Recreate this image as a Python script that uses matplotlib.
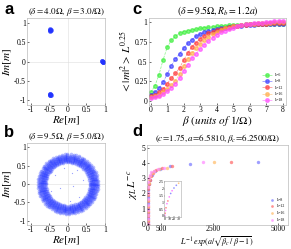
import numpy as np
import matplotlib
matplotlib.use('Agg')
import matplotlib.pyplot as plt

plt.rcParams['mathtext.fontset'] = 'stix'
plt.rcParams['font.family'] = 'Liberation Serif'

# ---------------- datos ----------------
# panel a: tres cumulos de puntos (Re, Im)
a_re = [0.94, 0.93, 0.95, 0.94, 0.92, -0.47, -0.48, -0.46, -0.47, -0.49, -0.47, -0.48, -0.46, -0.47, -0.49]
a_im = [0.00, 0.02, -0.02, -0.01, 0.01, 0.81, 0.83, 0.80, 0.79, 0.82, -0.85, -0.83, -0.86, -0.87, -0.84]

# panel b: anillo (radios y angulos en grados)
b_rad = [0.59, 0.62, 0.65, 0.67, 0.69, 0.71, 0.73, 0.75, 0.78, 0.81]
b_ang = [0, 6, 11, 17, 23, 28, 34, 40, 45, 51, 57, 62, 68, 74, 79, 85, 91, 96, 102, 108,
         113, 119, 125, 130, 136, 142, 147, 153, 159, 164, 170, 176, 181, 187, 193, 198,
         204, 210, 215, 221, 227, 232, 238, 244, 249, 255, 261, 266, 272, 278, 283, 289,
         295, 300, 306, 312, 317, 323, 329, 334, 340, 346, 351, 357]
b_in_re = [0.1, -0.2, 0.3, -0.35, 0.05, 0.4, -0.1, 0.25, -0.45, 0.15]
b_in_im = [0.3, -0.1, -0.35, 0.25, -0.45, 0.1, 0.45, 0.38, -0.2, -0.05]

# panel c
beta = [0, 0.25, 0.5, 0.75, 1, 1.25, 1.5, 1.75, 2, 2.25, 2.5, 2.75, 3, 3.25, 3.5, 3.75, 4,
        4.25, 4.5, 4.75, 5, 5.25, 5.5, 5.75, 6, 6.25, 6.5, 6.75, 7, 7.25, 7.5, 7.75, 8]
c_L6 = [0.11, 0.19, 0.33, 0.52, 0.68, 0.77, 0.82, 0.86, 0.88, 0.89, 0.90, 0.91, 0.92, 0.93, 0.935, 0.94, 0.945,
        0.95, 0.955, 0.96, 0.96, 0.965, 0.965, 0.97, 0.97, 0.97, 0.975, 0.975, 0.975, 0.98, 0.98, 0.98, 0.98]
c_L8 = [0.08, 0.11, 0.16, 0.24, 0.34, 0.45, 0.53, 0.60, 0.67, 0.73, 0.78, 0.82, 0.85, 0.87, 0.89, 0.90, 0.91,
        0.92, 0.93, 0.94, 0.945, 0.95, 0.955, 0.96, 0.96, 0.965, 0.97, 0.97, 0.97, 0.975, 0.975, 0.975, 0.98]
c_L12 = [0.06, 0.08, 0.11, 0.15, 0.22, 0.29, 0.35, 0.42, 0.52, 0.61, 0.69, 0.74, 0.79, 0.83, 0.86, 0.88, 0.90,
         0.91, 0.93, 0.94, 0.95, 0.955, 0.96, 0.965, 0.97, 0.97, 0.975, 0.98, 0.98, 0.985, 0.985, 0.99, 0.99]
c_L16 = [0.05, 0.06, 0.08, 0.11, 0.15, 0.20, 0.26, 0.34, 0.44, 0.53, 0.61, 0.67, 0.72, 0.77, 0.81, 0.85, 0.88,
         0.90, 0.92, 0.93, 0.945, 0.955, 0.96, 0.97, 0.975, 0.98, 0.985, 0.99, 0.99, 0.995, 1.0, 1.0, 1.0]
c_L18 = [0.04, 0.05, 0.07, 0.09, 0.13, 0.17, 0.22, 0.29, 0.38, 0.46, 0.54, 0.60, 0.66, 0.71, 0.76, 0.80, 0.84,
         0.87, 0.89, 0.91, 0.93, 0.95, 0.96, 0.97, 0.98, 0.985, 0.99, 0.995, 1.0, 1.0, 1.01, 1.02, 1.02]
c_series = [c_L6, c_L8, c_L12, c_L16, c_L18]
c_labels = ['L=6', 'L=8', 'L=12', 'L=16', 'L=18']
c_colors = ['#33ee33', '#3333ff', '#ff3333', '#ffaa44', '#ff44ff']

# panel d (colapso)
d_x8 = [0, 0, 1, 2, 4, 8, 15, 28, 50, 90, 160, 280, 480, 850, 1640, 4260]
d_y8 = [0.0, 0.15, 0.4, 0.7, 1.0, 1.4, 1.8, 2.2, 2.6, 2.9, 3.2, 3.45, 3.62, 3.78, 3.97, 4.1]
d_x12 = [0, 0, 1, 2, 3, 6, 12, 22, 40, 70, 120, 200, 330, 560, 950, 3200]
d_y12 = [0.0, 0.2, 0.5, 0.8, 1.1, 1.5, 1.9, 2.3, 2.6, 2.9, 3.15, 3.35, 3.55, 3.7, 3.82, 4.08]
d_x16 = [0, 0, 1, 2, 3, 5, 10, 18, 32, 55, 95, 160, 260, 420, 724, 2560]
d_y16 = [0.0, 0.25, 0.55, 0.85, 1.2, 1.6, 2.0, 2.4, 2.7, 2.95, 3.15, 3.35, 3.5, 3.6, 3.65, 4.08]
d_x18 = [0, 0, 1, 2, 3, 5, 9, 16, 28, 48, 80, 140, 230, 380, 620, 2130]
d_y18 = [0.0, 0.3, 0.6, 0.9, 1.25, 1.65, 2.05, 2.45, 2.75, 3.0, 3.2, 3.4, 3.5, 3.6, 3.7, 4.08]
d_xs = [d_x8, d_x12, d_x16, d_x18]
d_ys = [d_y8, d_y12, d_y16, d_y18]
d_labels = ['L=8', 'L=12', 'L=16', 'L=18']
d_colors = ['#7777ff', '#ff6666', '#ffbb66', '#ff88ff']

# inset
ins_x = [0.5, 1, 2, 3, 5, 7, 10, 13, 16, 20, 25, 30]
ins_y = [0.05, 0.2, 0.4, 0.6, 0.9, 1.1, 1.4, 1.65, 1.85, 2.05, 2.25, 2.4]
ins_c = ['#ff66ff', '#ff6666', '#ff66ff', '#ff6666', '#ff66ff', '#ff6666', '#ff66ff', '#7777ff',
         '#ff66ff', '#7777ff', '#7777ff', '#ffbb66']

fig = plt.figure(figsize=(2.91, 2.49), dpi=100)

tick_fs = 5.5
lab_fs = 8
tit_fs = 6.5


def style(ax):
    ax.tick_params(labelsize=tick_fs, length=1.5, width=0.4, pad=1, direction='in')
    for s in ax.spines.values():
        s.set_linewidth(0.4)
        s.set_color('#aaaaaa')


# ---------- a ----------
ax_a = fig.add_axes([0.093, 0.578, 0.268, 0.350])
ax_a.axhline(0, color='#dddddd', lw=0.4, zorder=0)
ax_a.axvline(0, color='#dddddd', lw=0.4, zorder=0)
ax_a.scatter(a_re, a_im, s=12, color='#2233ff', alpha=0.7, lw=0)
ax_a.set_xlim(-1.1, 1.0)
ax_a.set_ylim(-1.12, 1.12)
ax_a.set_xticks([-1, -0.5, 0, 0.5, 1])
ax_a.set_xticklabels(['-1', '-0.5', '0', '0.5', '1'])
ax_a.set_yticks([-1, -0.5, 0, 0.5, 1])
ax_a.set_yticklabels(['-1', '-0.5', '0', '0.5', '1'])
style(ax_a)
ax_a.set_xlabel(r'$Re[m]$', fontsize=lab_fs, labelpad=0)
ax_a.set_ylabel(r'$Im[m]$', fontsize=lab_fs, labelpad=0)
ax_a.set_title(r'$(\delta=4.0\Omega,\,\beta=3.0/\Omega)$', fontsize=tit_fs, pad=2)
fig.text(0.015, 0.945, 'a', fontsize=12, fontweight='bold', family='Liberation Sans')

# ---------- b ----------
ax_b = fig.add_axes([0.093, 0.096, 0.268, 0.330])
ax_b.axhline(0, color='#dddddd', lw=0.4, zorder=0)
ax_b.axvline(0, color='#dddddd', lw=0.4, zorder=0)
rr, tt = np.meshgrid(b_rad, np.radians(b_ang))
ax_b.scatter((rr * np.cos(tt)).ravel(), (rr * np.sin(tt)).ravel(), s=7, color='#3344ff', alpha=0.35, lw=0)
ax_b.scatter(b_in_re, b_in_im, s=0.8, color='#3344ff', alpha=0.5, lw=0)
ax_b.set_xlim(-1.1, 1.0)
ax_b.set_ylim(-1.12, 1.12)
ax_b.set_xticks([-1, -0.5, 0, 0.5, 1])
ax_b.set_xticklabels(['-1', '-0.5', '0', '0.5', '1'])
ax_b.set_yticks([-1, -0.5, 0, 0.5, 1])
ax_b.set_yticklabels(['-1', '-0.5', '0', '0.5', '1'])
style(ax_b)
ax_b.set_xlabel(r'$Re[m]$', fontsize=lab_fs, labelpad=0)
ax_b.set_ylabel(r'$Im[m]$', fontsize=lab_fs, labelpad=0)
ax_b.set_title(r'$(\delta=9.5\Omega,\,\beta=5.0/\Omega)$', fontsize=tit_fs, pad=2)
fig.text(0.015, 0.45, 'b', fontsize=12, fontweight='bold', family='Liberation Sans')

# ---------- c ----------
ax_c = fig.add_axes([0.512, 0.578, 0.471, 0.349])
for ys, lab, col in zip(c_series, c_labels, c_colors):
    ax_c.plot(beta, ys, ls='--', lw=0.5, color=col, marker='o', ms=2.6, mfc=col,
              mec=col, alpha=0.6, label=lab)
ax_c.set_xlim(-0.1, 8.2)
ax_c.set_ylim(-0.05, 1.05)
ax_c.set_xticks(range(9))
ax_c.set_yticks([0, 0.25, 0.5, 0.75, 1])
ax_c.set_yticklabels(['0', '0.25', '0.5', '0.75', '1'])
style(ax_c)
ax_c.set_xlabel(r'$\beta\ (units\ of\ 1/\Omega)$', fontsize=lab_fs, labelpad=0)
ax_c.set_ylabel(r'$<|m|^2>\,L^{0.25}$', fontsize=lab_fs, labelpad=1)
ax_c.set_title(r'$(\delta=9.5\Omega,R_b=1.2a)$', fontsize=tit_fs + 0.5, pad=2)
ax_c.legend(loc='lower right', fontsize=2.8, frameon=False, handlelength=2.5,
            labelspacing=0.6, borderaxespad=0.3)
fig.text(0.455, 0.945, 'c', fontsize=12, fontweight='bold', family='Liberation Sans')

# ---------- d ----------
ax_d = fig.add_axes([0.505, 0.098, 0.485, 0.320])
for xs, ys, lab, col in zip(d_xs, d_ys, d_labels, d_colors):
    ax_d.scatter(xs, ys, s=6, color=col, alpha=0.7, lw=0, label=lab)
ax_d.set_xlim(-30, 5400)
ax_d.set_ylim(-0.05, 5.2)
ax_d.set_xticks([0, 500, 2500, 5000])
ax_d.set_yticks(range(6))
style(ax_d)
ax_d.tick_params(axis='x', pad=0.5)
fig.text(0.745, 0.006, r'$L^{-1}\,exp(a/\sqrt{\beta_c\,/\,\beta-1})$', fontsize=5.8,
         ha='center', va='bottom')
ax_d.set_ylabel(r'$\chi_L\,L^{-c}$', fontsize=lab_fs, labelpad=1)
ax_d.set_title(r'$(c\!=\!1.75,a\!=\!6.5810,\beta_c\!=\!6.2500/\Omega)$', fontsize=tit_fs, pad=2)
ax_d.legend(loc='lower right', fontsize=2.8, frameon=False, handletextpad=0.2,
            labelspacing=0.7, borderaxespad=0.3, markerscale=0.8)
fig.text(0.455, 0.455, 'd', fontsize=12, fontweight='bold', family='Liberation Sans')

ax_in = fig.add_axes([0.564, 0.13, 0.058, 0.145])
ax_in.scatter(ins_x, ins_y, s=1.5, c=ins_c, lw=0, alpha=0.8)
ax_in.set_xlim(-1, 35)
ax_in.set_ylim(-0.05, 2.6)
ax_in.set_xticks([0, 10, 20, 30])
ax_in.set_yticks([0, 0.5, 1, 1.5, 2, 2.5])
ax_in.set_yticklabels(['0', '0.5', '1', '1.5', '2', '2.5'])
ax_in.tick_params(labelsize=2.8, length=1, width=0.3, pad=0.5, direction='in')
for s in ax_in.spines.values():
    s.set_linewidth(0.4)
    s.set_color('#aaaaaa')

fig.savefig('out.png', dpi=100)
